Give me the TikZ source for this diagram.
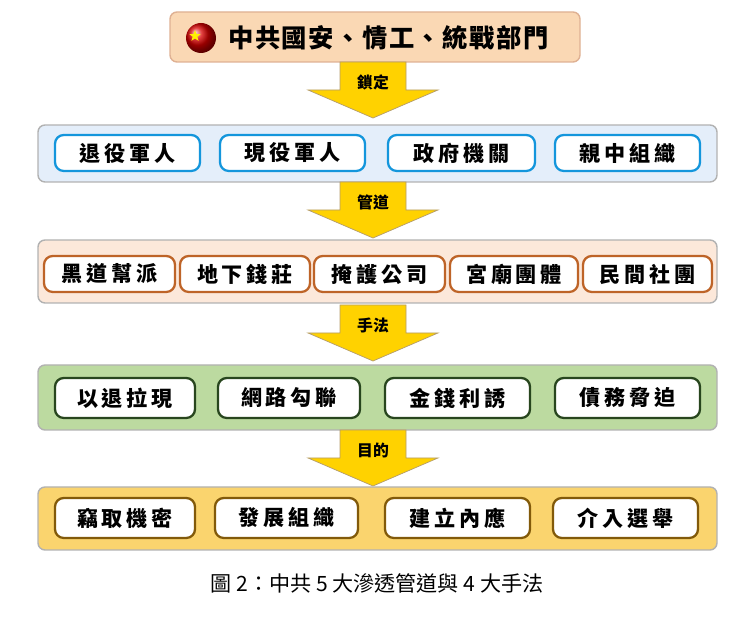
\documentclass[tikz,border=0pt]{standalone}
\usepackage{fontspec}
\newfontfamily\cjk{Noto Sans CJK TC}
\newfontfamily\cjkw[LetterSpace=18]{Noto Sans CJK TC}
\newfontfamily\cjkt[LetterSpace=6]{Noto Sans CJK TC}
\usetikzlibrary{shapes.geometric}
\definecolor{bandblue}{RGB}{228,238,250}
\definecolor{bandpeach}{RGB}{252,232,218}
\definecolor{bandgreen}{RGB}{188,218,160}
\definecolor{bandgold}{RGB}{250,212,110}
\definecolor{topfill}{RGB}{250,216,180}
\definecolor{cyanline}{RGB}{20,150,220}
\definecolor{brownline}{RGB}{190,100,40}
\definecolor{greenline}{RGB}{40,70,30}
\definecolor{goldline}{RGB}{130,90,10}
\definecolor{arrowfill}{RGB}{255,210,0}
\tikzset{
  band/.style={draw=gray!60, line width=0.8pt, rounded corners=4pt},
  item/.style={draw, fill=white, line width=1.3pt, rounded corners=5pt,
    minimum height=36*0.02cm, font=\cjkw\bfseries\large},
  arrowlabel/.style={font=\cjk\bfseries\small},
}
% big yellow down arrow: x center, top y, label
\newcommand{\bigarrow}[4]{%
  \draw[draw=goldline!60, fill=arrowfill, line width=0.4pt]
    (#1-33,#2) -- (#1+33,#2) -- (#1+33,#2+28) -- (#1+65,#2+28)
    -- (#1,#2+56) -- (#1-65,#2+28) -- (#1-33,#2+28) -- cycle;
  \node[arrowlabel] (#4) at (#1,#2+20) {#3};}
\begin{document}
\begin{tikzpicture}[x=0.02cm, y=-0.02cm]
\useasboundingbox (0,0) rectangle (755,617);
{\cjk
% top box
\draw[band, fill=topfill, draw=brownline!50] (170,12) rectangle (580,62);
\shade[ball color=red!85!black] (201,38) circle (15);
\node[star, star points=5, star point ratio=2.4, fill=yellow, inner sep=0pt, minimum size=12*0.02cm] (star) at (195,36) {};
\node[font=\cjkt\bfseries\Large, anchor=west] (source) at (222,38) {中共國安、情工、統戰部門};

\bigarrow{373}{62}{鎖定}{lock}

% row 1
\draw[band, fill=bandblue] (38,125) rectangle (717,182);
\foreach \xa/\xb/\txt/\nm in {55/200/退役軍人/retired, 220/365/現役軍人/active,
    388/535/政府機關/agency, 555/700/親中組織/prochina}
  \node[item, draw=cyanline, minimum width=(\xb-\xa)*0.02cm] (\nm) at ({(\xa+\xb)/2},153) {\txt};

\bigarrow{373}{182}{管道}{channel}

% row 2
\draw[band, fill=bandpeach] (38,240) rectangle (717,303);
\foreach \xa/\xb/\txt/\nm in {44/175/黑道幫派/gang, 180/310/地下錢莊/bank,
    314/445/掩護公司/cover, 450/578/宮廟團體/temple, 583/712/民間社團/club}
  \node[item, draw=brownline, minimum width=(\xb-\xa)*0.02cm] (\nm) at ({(\xa+\xb)/2},274) {\txt};

\bigarrow{373}{305}{手法}{method}

% row 3
\draw[band, fill=bandgreen] (38,365) rectangle (717,430);
\foreach \xa/\xb/\txt/\nm in {55/195/以退拉現/recruit, 218/360/網路勾聯/online,
    385/530/金錢利誘/money, 555/700/債務脅迫/debt}
  \node[item, draw=greenline, minimum width=(\xb-\xa)*0.02cm, minimum height=40*0.02cm] (\nm) at ({(\xa+\xb)/2},398) {\txt};

\bigarrow{373}{430}{目的}{goal}

% row 4
\draw[band, fill=bandgold] (38,487) rectangle (717,550);
\foreach \xa/\xb/\txt/\nm in {55/195/竊取機密/secret, 215/358/發展組織/organize,
    385/530/建立內應/insider, 553/698/介入選舉/election}
  \node[item, draw=goldline, minimum width=(\xb-\xa)*0.02cm, minimum height=40*0.02cm] (\nm) at ({(\xa+\xb)/2},518) {\txt};

% caption
\node[font=\cjk\large] (caption) at (377,583) {圖 2：中共 5 大滲透管道與 4 大手法};
}
\end{tikzpicture}
\end{document}
